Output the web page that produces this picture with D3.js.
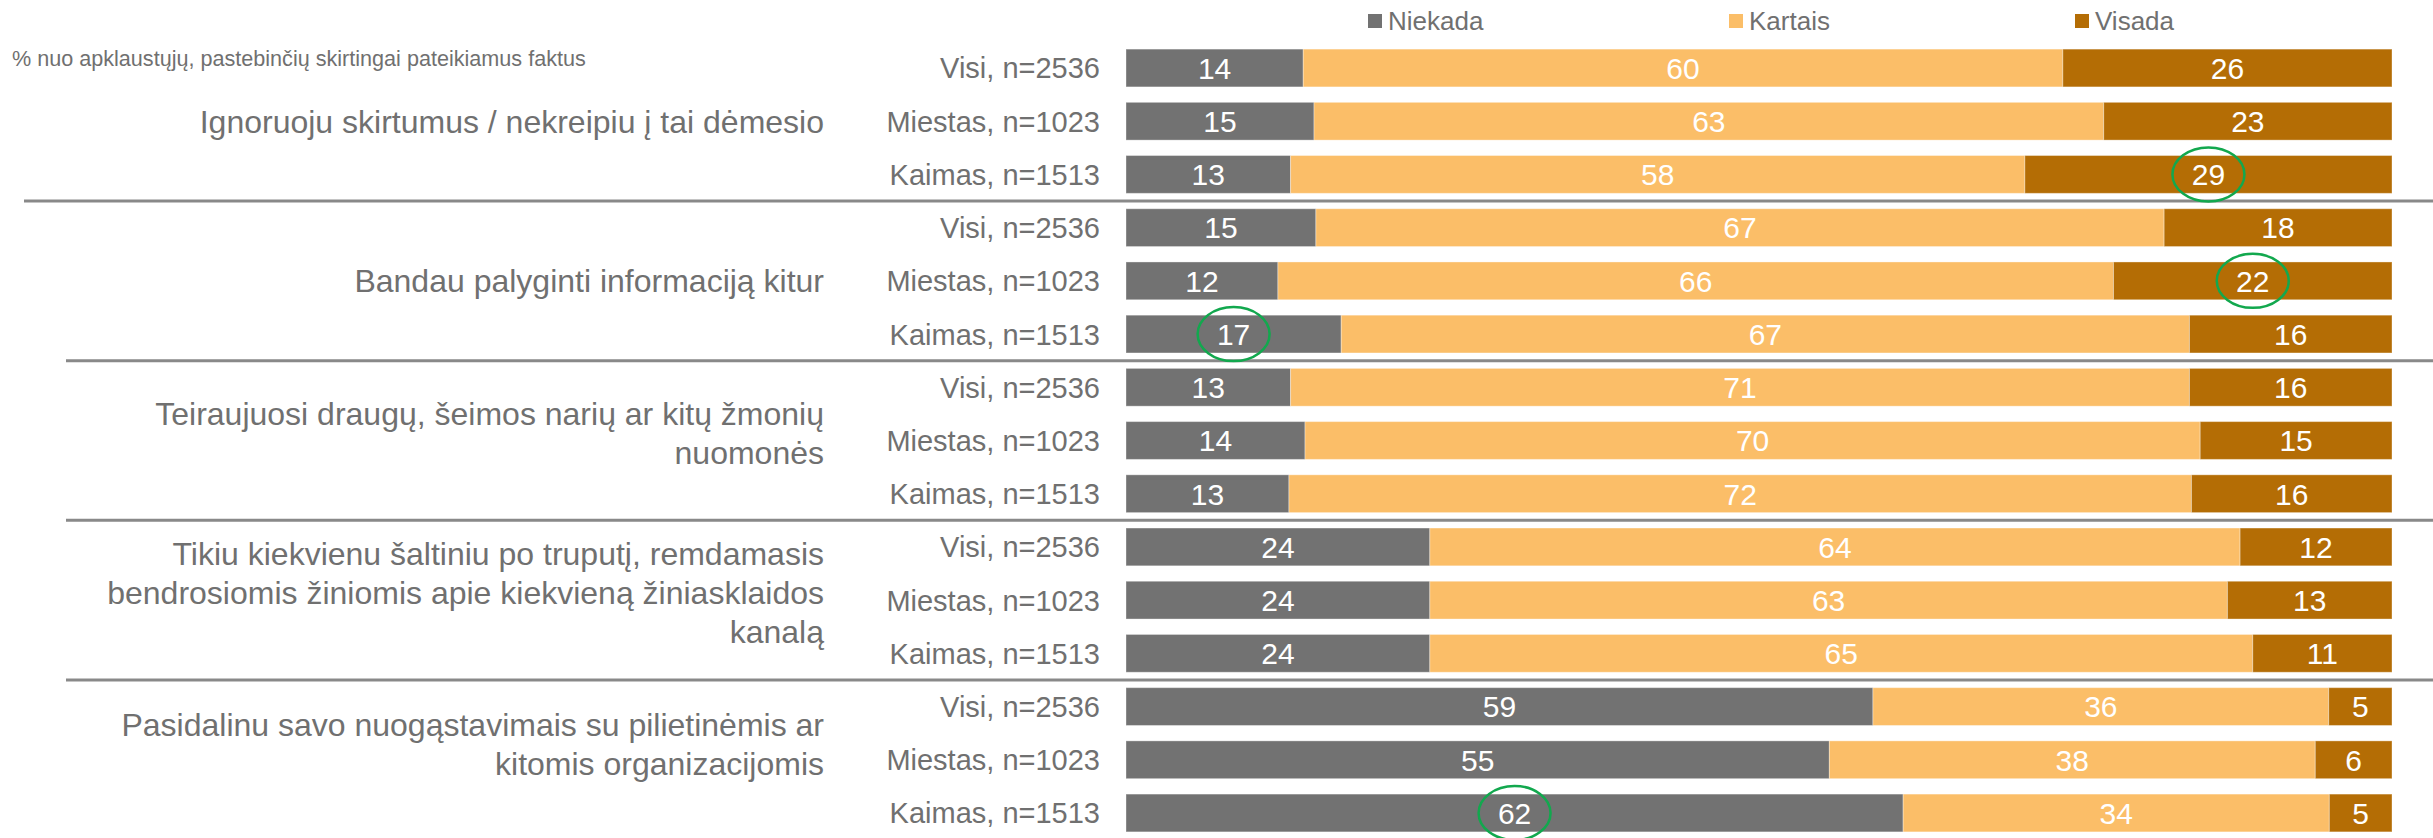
<!DOCTYPE html>
<html>
<head>
<meta charset="utf-8">
<script src="https://cdn.jsdelivr.net/npm/d3@7"></script>
<style>
  html, body { margin: 0; padding: 0; background: #fff; }
  svg { display: block; font-family: 'Liberation Sans', Arial, sans-serif; }
</style>
</head>
<body>
<div class="js-chart"></div>
<script>
const groups = [
  ['Ignoruoju skirtumus / nekreipiu į tai dėmesio'],
  ['Bandau palyginti informaciją kitur'],
  ['Teiraujuosi draugų, šeimos narių ar kitų žmonių', 'nuomonės'],
  ['Tikiu kiekvienu šaltiniu po truputį, remdamasis', 'bendrosiomis žiniomis apie kiekvieną žiniasklaidos', 'kanalą'],
  ['Pasidalinu savo nuogąstavimais su pilietinėmis ar', 'kitomis organizacijomis']
];
const rowLabels = ['Visi, n=2536', 'Miestas, n=1023', 'Kaimas, n=1513'];
const seriesNames = ['Niekada', 'Kartais', 'Visada'];
const niekada = [14, 15, 13, 15, 12, 17, 13, 14, 13, 24, 24, 24, 59, 55, 62];
const kartais = [60, 63, 58, 67, 66, 67, 71, 70, 72, 64, 63, 65, 36, 38, 34];
const visada = [26, 23, 29, 18, 22, 16, 16, 15, 16, 12, 13, 11, 5, 6, 5];
// circled values: [row, series]
const highlights = [[2, 'Visada'], [4, 'Visada'], [5, 'Niekada'], [14, 'Niekada']];
const note = '% nuo apklaustųjų, pastebinčių skirtingai pateikiamus faktus';

const width = 2433;
const height = 838;
const colors = { Niekada: '#727272', Kartais: '#fbbe68', Visada: '#b46d05' };
const textColor = '#707070';

const rows = niekada.map((v, i) => ({
  id: i,
  Niekada: v,
  Kartais: kartais[i],
  Visada: visada[i]
}));

const svg = d3.select('.js-chart')
  .append('svg')
  .attr('width', width)
  .attr('height', height);

const x = d3.scaleLinear().domain([0, 1]).range([1126, 2392]);
const y = d3.scaleBand()
  .domain(rows.map((d) => d.id))
  .range([41.4, 839.6])
  .paddingInner(0.29)
  .paddingOuter(0.145);

const stack = d3.stack().keys(seriesNames).offset(d3.stackOffsetExpand);
const stacked = stack(rows);

// group separators
const sepRows = d3.range(1, groups.length).map((g) => g * 3);
svg.selectAll('.sep')
  .data(sepRows)
  .enter()
  .append('line')
  .attr('x1', (d, i) => (i === 0 ? 24 : 66))
  .attr('x2', width)
  .attr('y1', (d) => y(d) - y.step() * y.paddingInner() / 2)
  .attr('y2', (d) => y(d) - y.step() * y.paddingInner() / 2)
  .attr('stroke', '#898989')
  .attr('stroke-width', 3);

// bars
const layer = svg.selectAll('.layer')
  .data(stacked)
  .enter()
  .append('g')
  .attr('fill', (d) => colors[d.key]);

layer.selectAll('rect')
  .data((d) => d)
  .enter()
  .append('rect')
  .attr('x', (d) => x(d[0]))
  .attr('y', (d) => y(d.data.id))
  .attr('width', (d) => x(d[1]) - x(d[0]))
  .attr('height', y.bandwidth())
  .attr('stroke', '#fff')
  .attr('stroke-opacity', 0.35)
  .attr('stroke-width', 1);

layer.selectAll('text')
  .data((d) => d.map((s) => ({ s, key: d.key })))
  .enter()
  .append('text')
  .attr('x', (d) => (x(d.s[0]) + x(d.s[1])) / 2)
  .attr('y', (d) => y(d.s.data.id) + y.bandwidth() / 2)
  .attr('dy', '0.36em')
  .attr('text-anchor', 'middle')
  .attr('fill', '#fff')
  .style('font-size', '30px')
  .text((d) => d.s.data[d.key]);

// highlight circles
const findSeg = (row, key) => stacked.find((s) => s.key === key)[row];
svg.selectAll('.hl')
  .data(highlights)
  .enter()
  .append('ellipse')
  .attr('cx', (d) => { const s = findSeg(d[0], d[1]); return (x(s[0]) + x(s[1])) / 2; })
  .attr('cy', (d) => y(d[0]) + y.bandwidth() / 2)
  .attr('rx', 36)
  .attr('ry', 27)
  .attr('fill', 'none')
  .attr('stroke', '#12a84e')
  .attr('stroke-width', 2.5);

// row labels
svg.selectAll('.row-label')
  .data(rows)
  .enter()
  .append('text')
  .attr('x', 1100)
  .attr('y', (d) => y(d.id) + y.bandwidth() / 2)
  .attr('dy', '0.36em')
  .attr('text-anchor', 'end')
  .attr('fill', textColor)
  .style('font-size', '29px')
  .text((d) => rowLabels[d.id % 3]);

// group labels
const lineH = 39;
const groupLabel = svg.selectAll('.group-label')
  .data(groups)
  .enter()
  .append('text')
  .attr('text-anchor', 'end')
  .attr('fill', textColor)
  .style('font-size', '32px');

groupLabel.selectAll('tspan')
  .data((d, i) => d.map((line, j) => ({ line, j, n: d.length, g: i })))
  .enter()
  .append('tspan')
  .attr('x', 824)
  .attr('y', (d) => {
    const mid = y(d.g * 3 + 1) + y.bandwidth() / 2 - (d.n > 1 ? 8 + (d.g === 4 ? 8 : 0) : 0);
    return mid + (d.j - (d.n - 1) / 2) * lineH;
  })
  .attr('dy', '0.36em')
  .text((d) => d.line);

// note
svg.append('text')
  .attr('x', 12)
  .attr('y', 66)
  .attr('fill', textColor)
  .style('font-size', '21.6px')
  .text(note);

// legend
const legendX = [1368, 1729, 2075];
const legend = svg.selectAll('.legend')
  .data(seriesNames)
  .enter()
  .append('g')
  .attr('transform', (d, i) => `translate(${legendX[i]},14)`);

legend.append('rect')
  .attr('width', 14)
  .attr('height', 14)
  .attr('fill', (d) => colors[d]);

legend.append('text')
  .attr('x', 20)
  .attr('y', 16)
  .attr('fill', textColor)
  .style('font-size', '26px')
  .text((d) => d);
</script>
</body>
</html>
